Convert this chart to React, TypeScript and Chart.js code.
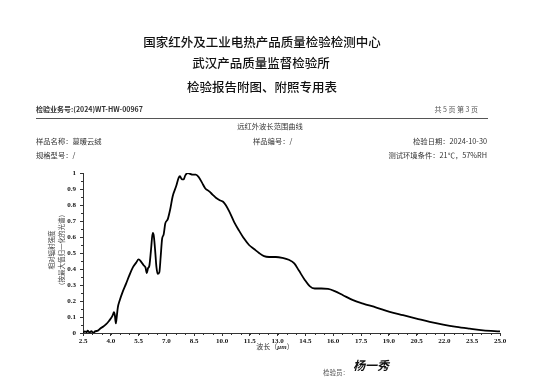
import React, { useEffect, useRef } from "react";
import { Chart, registerables } from "chart.js";

Chart.register(...registerables);

const wavelengths = [
  2.5, 2.6, 2.7, 2.75, 2.85, 2.95, 3.05, 3.15, 3.3, 3.45, 3.6, 3.75, 3.9, 4.0, 4.1, 4.17, 4.22, 4.27, 4.3, 4.38,
  4.47, 4.65, 4.83, 5.0, 5.19, 5.37, 5.5, 5.64, 5.76, 5.87, 5.94, 6.01, 6.08, 6.17, 6.26, 6.31, 6.39, 6.46, 6.53,
  6.62, 6.69, 6.77, 6.85, 6.94, 7.07, 7.2, 7.34, 7.52, 7.66, 7.73, 7.84, 7.93, 8.02, 8.15, 8.27, 8.41, 8.59, 8.74,
  8.92, 9.09, 9.31, 9.49, 9.67, 9.88, 10.06, 10.2, 10.39, 10.65, 10.92, 11.19, 11.46, 11.73, 12.0, 12.27, 12.54,
  12.9, 13.25, 13.6, 13.9, 14.15, 14.45, 14.73, 15.0, 15.36, 15.72, 16.08, 16.53, 17.07, 17.61, 18.33, 19.05,
  19.77, 20.49, 21.21, 21.93, 22.65, 23.37, 24.09, 25.0,
];
const intensity = [
  0, 0.01, 0.005, 0.015, 0.003, 0.012, 0.0, 0.01, 0.015, 0.03, 0.04, 0.055, 0.075, 0.09, 0.11, 0.13, 0.11, 0.06,
  0.08, 0.16, 0.2, 0.26, 0.31, 0.36, 0.41, 0.44, 0.46, 0.445, 0.425, 0.41, 0.375, 0.405, 0.42, 0.52, 0.625, 0.615,
  0.52, 0.415, 0.37, 0.38, 0.475, 0.59, 0.615, 0.685, 0.71, 0.77, 0.855, 0.915, 0.97, 0.98, 0.96, 0.96, 0.985, 1.0,
  0.995, 0.99, 0.99, 0.975, 0.94, 0.905, 0.885, 0.865, 0.845, 0.83, 0.82, 0.8, 0.76, 0.695, 0.64, 0.59, 0.55,
  0.525, 0.5, 0.48, 0.475, 0.475, 0.47, 0.458, 0.435, 0.39, 0.335, 0.293, 0.278, 0.278, 0.276, 0.262, 0.236,
  0.205, 0.184, 0.159, 0.132, 0.111, 0.09, 0.069, 0.052, 0.038, 0.027, 0.017, 0.01,
];

const xMin = 2.5;
const xMax = 25.0;
const xStep = 1.5;
const xMinorStep = 0.5;
const yMin = 0;
const yMax = 1;
const yStep = 0.1;
const yMinorStep = 0.05;

const titleLines = ["国家红外及工业电热产品质量检验检测中心", "武汉产品质量监督检验所", "检验报告附图、附照专用表"];
const reportNo = "检验业务号:(2024)WT-HW-00967";
const pageInfo = "共 5 页 第 3 页";
const chartTitle = "远红外波长范围曲线";
const sampleName = "样品名称：蔓暖云绒";
const sampleNo = "样品编号：/";
const testDate = "检验日期：2024-10-30";
const spec = "规格型号：/";
const env = "测试环境条件：21℃，57%RH";
const yTitle = ["相对辐射强度", "（按最大值归一化的光谱）"];
const inspectorLabel = "检验员：";
const inspectorSign = "杨一秀";

const CJK = '"Noto Sans CJK SC", "Noto Sans", sans-serif';

const minorTicks = {
  id: "minorTicks",
  afterDraw(chart: any) {
    const ctx = chart.ctx;
    const xs = chart.scales.x;
    const ys = chart.scales.y;
    ctx.save();
    ctx.strokeStyle = "#333";
    ctx.lineWidth = 1;
    ctx.beginPath();
    for (let v = xMin; v <= xMax + 1e-6; v += xMinorStep) {
      const px = Math.round(xs.getPixelForValue(v)) + 0.5;
      ctx.moveTo(px, ys.bottom);
      ctx.lineTo(px, ys.bottom + 2);
    }
    for (let v = yMin; v <= yMax + 1e-6; v += yMinorStep) {
      const py = Math.round(ys.getPixelForValue(v)) + 0.5;
      ctx.moveTo(xs.left - 2, py);
      ctx.lineTo(xs.left, py);
    }
    ctx.stroke();
    ctx.restore();
  },
};

function ChartBox() {
  const ref = useRef<HTMLCanvasElement | null>(null);
  useEffect(() => {
    if (!ref.current) return;
    const chart = new Chart(ref.current, {
      type: "line",
      data: {
        datasets: [
          {
            data: wavelengths.map((w, i) => ({ x: w, y: intensity[i] })),
            borderColor: "#000",
            borderWidth: 1.8,
            pointRadius: 0,
            cubicInterpolationMode: "monotone",
            fill: false,
          },
        ],
      },
      options: {
        animation: false,
        responsive: false,
        maintainAspectRatio: false,
        layout: { padding: { left: 0, top: 173, right: 54, bottom: 0 } },
        plugins: { legend: { display: false }, tooltip: { enabled: false } },
        scales: {
          x: {
            type: "linear",
            min: xMin,
            max: xMax,
            afterFit: (s: any) => {
              s.height = 59;
            },
            border: { display: true, color: "#333", width: 1 },
            grid: { display: true, drawOnChartArea: false, drawTicks: true, tickLength: 3, color: "#333" },
            ticks: {
              stepSize: xStep,
              autoSkip: false,
              maxRotation: 0,
              padding: 1,
              color: "#111",
              font: { family: '"Liberation Serif", "Times New Roman", serif', size: 7, weight: "bold" },
              callback: (v: any) => Number(v).toFixed(1),
            },
          },
          y: {
            min: yMin,
            max: yMax,
            afterFit: (s: any) => {
              s.width = 83;
            },
            border: { display: true, color: "#333", width: 1 },
            grid: { display: true, drawOnChartArea: false, drawTicks: true, tickLength: 3, color: "#333" },
            ticks: {
              stepSize: yStep,
              padding: 4,
              color: "#111",
              font: { family: '"Liberation Serif", "Times New Roman", serif', size: 7, weight: "bold" },
              callback: (v: any) => String(Number(Number(v).toFixed(1))),
            },
          },
        },
      },
      plugins: [minorTicks],
    });
    return () => chart.destroy();
  }, []);
  return <canvas ref={ref} width={554} height={392} style={{ position: "absolute", left: 0, top: 0 }} />;
}

function T(props: {
  text: string;
  x: number;
  y: number;
  size: number;
  align?: "left" | "center" | "right";
  weight?: number | string;
  color?: string;
  family?: string;
  style?: React.CSSProperties;
}) {
  const { text, x, y, size, align = "left", weight = "normal", color = "#222", family = CJK, style } = props;
  const tx = align === "center" ? "-50%" : align === "right" ? "-100%" : "0";
  return (
    <div
      style={{
        position: "absolute",
        left: x,
        top: y - size / 2,
        fontSize: size,
        lineHeight: `${size}px`,
        fontFamily: family,
        fontWeight: weight as any,
        color,
        whiteSpace: "nowrap",
        transform: `translateX(${tx})`,
        ...style,
      }}
    >
      {text}
    </div>
  );
}

export default function App() {
  return (
    <div
      style={{
        position: "absolute",
        left: 0,
        top: 0,
        width: 554,
        height: 392,
        background: "#fff",
        overflow: "hidden",
      }}
    >
      <ChartBox />
      <T text={titleLines[0]} x={262} y={42} size={12.5} align="center" color="#111" weight={500} />
      <T text={titleLines[1]} x={261} y={63} size={12.5} align="center" color="#111" weight={500} />
      <T text={titleLines[2]} x={262} y={87} size={12.5} align="center" color="#111" weight={500} />
      <T text={reportNo} x={36} y={109} size={7} weight="bold" color="#333" />
      <T text={pageInfo} x={478} y={109} size={7} align="right" color="#555" />
      <div style={{ position: "absolute", left: 36, top: 118, width: 452, height: 1, background: "#555" }} />
      <T text={chartTitle} x={270} y={127} size={7.3} align="center" color="#333" />
      <T text={sampleName} x={36} y={142} size={7.3} color="#333" />
      <T text={sampleNo} x={253} y={142} size={7.3} color="#333" />
      <T text={testDate} x={487} y={142} size={7.3} align="right" color="#333" />
      <T text={spec} x={36} y={156} size={7.3} color="#333" />
      <T text={env} x={487} y={156} size={7.3} align="right" color="#333" />
      <div
        style={{
          position: "absolute",
          left: 56,
          top: 250,
          transform: "translate(-50%, -50%) rotate(-90deg)",
          fontFamily: CJK,
          fontSize: 6.5,
          lineHeight: "10px",
          color: "#444",
          textAlign: "center",
          whiteSpace: "nowrap",
        }}
      >
        <div>{yTitle[0]}</div>
        <div>{yTitle[1]}</div>
      </div>
      <div
        style={{
          position: "absolute",
          left: 275,
          top: 342,
          transform: "translateX(-50%)",
          fontFamily: CJK,
          fontSize: 7,
          lineHeight: "8px",
          color: "#333",
          whiteSpace: "nowrap",
        }}
      >
        波长（<span style={{ fontStyle: "italic", fontFamily: '"Liberation Serif", serif', fontWeight: "bold" }}>μm</span>）
      </div>
      <T text={inspectorLabel} x={323} y={372} size={6.5} color="#555" />
      <T
        text={inspectorSign}
        x={353}
        y={365}
        size={12}
        weight="bold"
        color="#111"
        style={{ fontStyle: "italic", letterSpacing: 0 }}
      />
    </div>
  );
}
